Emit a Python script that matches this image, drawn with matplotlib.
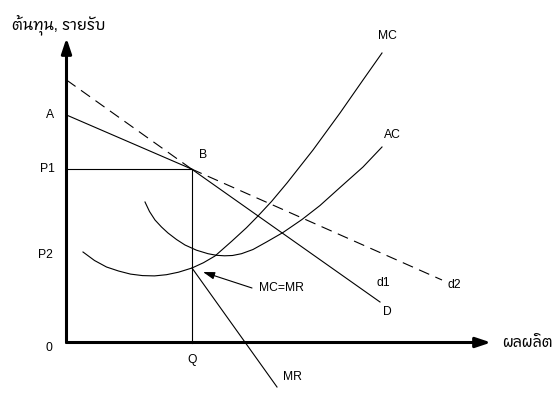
import matplotlib
matplotlib.use("Agg")
import matplotlib.pyplot as plt
from matplotlib import font_manager
from matplotlib.ft2font import FT2Font

# ---------------- data (economic units, origin at axis crossing) ----------------
Q = 125.0
P1 = 173.5
P2 = 87.5
A_price = 227.5
D_top = 262.5            # vertical intercept of the steep (D) line (dashed part)
D_end = (313.5, 40.5)    # lower end of the solid D line
d2_end = (375.5, 62.5)   # lower end of the dashed d2 line
mcmr_pt = (125.5, 74.5)
mr_end = (210.5, -44.5)

mc_x = [16.5, 28, 40, 52, 64, 76, 88, 100, 112, 125.5, 137, 148.5, 165.5, 180, 191.5, 205,
        220.5, 246.5, 273.5, 296.5, 315.5]
mc_y = [90.5, 82.0, 75.5, 71.5, 68.4, 66.9, 66.6, 67.8, 70.3, 74.5, 79.8, 86.5, 101.5, 114.8, 126.5, 141.0,
        159.5, 192.5, 229.5, 262.5, 289.5]

ac_x = [78.5, 83, 88.5, 95, 101.5, 110, 118.5, 130, 141.5, 150, 158, 166, 175, 186.5, 200,
        216.5, 235.5, 253.5, 273.5, 296.5, 315.5]
ac_y = [140.5, 131.0, 122.5, 115.5, 109.5, 103.0, 97.5, 92.3, 88.8, 87.2, 86.7, 87.0, 88.8, 93.0, 100.5,
        110.0, 123.0, 137.0, 155.0, 175.5, 195.5]

y_axis_top = 304.5
x_axis_end = 424.5
arrow_tail = (185.5, 54.5)
arrow_head = (136.5, 70.5)

y_label = "ต้นทุน, รายรับ"
x_label = "ผลผลิต"
tick_labels = {"A": (-16.5, A_price), "P1": (-19.5, P1), "P2": (-21.5, P2), "0": (-17.5, -5.5), "Q": (Q + 0.5, -17.5)}
curve_labels = {"B": (137, 188), "MC": (320.5, 307), "AC": (325.5, 207), "d1": (316.5, 59.5),
                "d2": (388, 57.5), "D": (321, 30.5), "MR": (225.5, -34.5)}
mcmr_label = "MC=MR"

# ---------------- fonts ----------------
def find_thai_font():
    best = None
    for f in font_manager.fontManager.ttflist:
        try:
            cm = FT2Font(f.fname).get_charmap()
        except Exception:
            continue
        if 0x0E15 in cm and 0x0E49 in cm and 0x0E1C in cm:
            if best is None or "Sans" in f.name:
                best = f.name
    return best

thai = find_thai_font()
latin = "Liberation Sans"
fams = [latin, thai, "DejaVu Sans"] if thai else [latin, "DejaVu Sans"]
plt.rcParams["font.family"] = fams

# ---------------- figure ----------------
W, H = 555, 394
ox, oy = 66.5, 342.5
fig = plt.figure(figsize=(W / 100, H / 100), dpi=100)
ax = fig.add_axes([0, 0, 1, 1])
ax.set_xlim(-ox, W - ox)
ax.set_ylim(-(H - oy), oy)
ax.axis("off")

lw = 0.8
k = "black"
fs = 8.7

# axes
ax.annotate("", xy=(0, y_axis_top), xytext=(0, 0),
            arrowprops=dict(arrowstyle="-|>,head_length=0.9,head_width=0.3", lw=2.2, color=k, shrinkA=0, shrinkB=0))
ax.annotate("", xy=(x_axis_end, 0), xytext=(0, 0),
            arrowprops=dict(arrowstyle="-|>,head_length=0.9,head_width=0.3", lw=2.2, color=k, shrinkA=0, shrinkB=0))

# guide lines
ax.plot([0, Q], [P1, P1], color=k, lw=lw)
ax.plot([Q, Q], [0, P1], color=k, lw=lw)

dash = (0, (10, 6))
# flatter line: solid A->B, dashed B->d2
ax.plot([0, Q], [A_price, P1], color=k, lw=lw)
ax.plot([Q, d2_end[0]], [P1, d2_end[1]], color=k, lw=lw, linestyle=dash)
# steeper line: dashed top->B, solid B->D
ax.plot([0, Q], [D_top, P1], color=k, lw=lw, linestyle=dash)
ax.plot([Q, D_end[0]], [P1, D_end[1]], color=k, lw=lw)

# MR
ax.plot([mcmr_pt[0], mr_end[0]], [mcmr_pt[1], mr_end[1]], color=k, lw=lw)

# MC & AC
ax.plot(mc_x, mc_y, color=k, lw=lw, solid_joinstyle="round")
ax.plot(ac_x, ac_y, color=k, lw=lw, solid_joinstyle="round")

# MC=MR arrow
ax.annotate("", xy=arrow_head, xytext=arrow_tail,
            arrowprops=dict(arrowstyle="-|>,head_length=0.7,head_width=0.22", lw=lw, color=k, shrinkA=0, shrinkB=0))
ax.text(arrow_tail[0] + 7, arrow_tail[1], mcmr_label, fontsize=fs, ha="left", va="center")

# labels
for t, (x, y) in tick_labels.items():
    ax.text(x, y, t, fontsize=fs, ha="center", va="center")
for t, (x, y) in curve_labels.items():
    ax.text(x, y, t, fontsize=fs, ha="center", va="center")

ax.text(-ox + 12, oy - 29, y_label, fontsize=11, ha="left", va="baseline")
ax.text(435.5, -4.5, x_label, fontsize=11, ha="left", va="baseline")

fig.savefig("out.png", dpi=100)
